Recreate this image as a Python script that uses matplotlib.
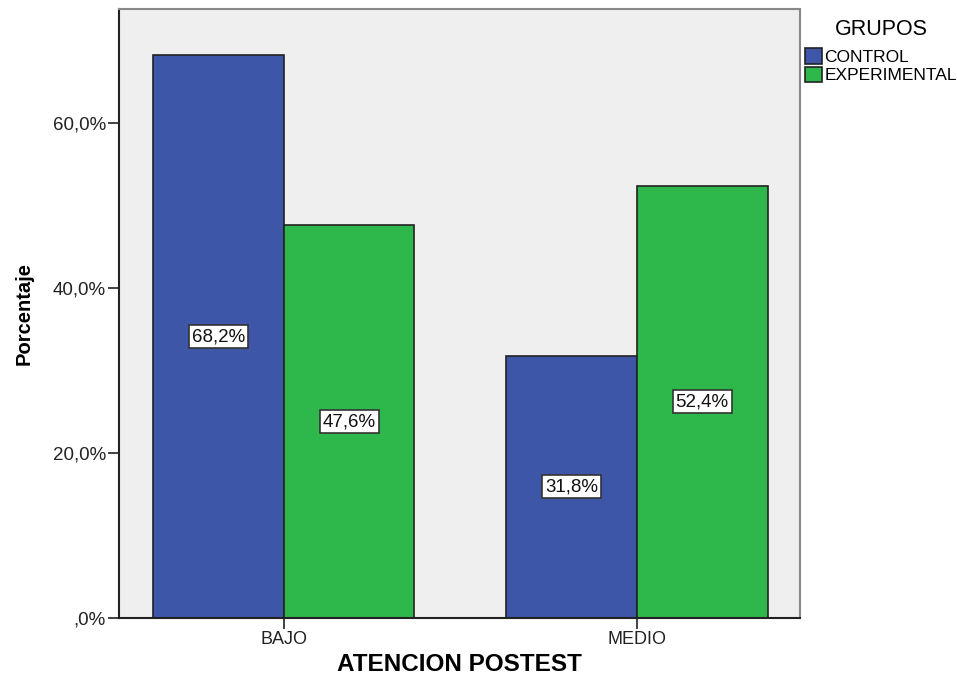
import matplotlib
matplotlib.use("Agg")
import matplotlib.pyplot as plt
import numpy as np
from matplotlib.patches import Patch

plt.rcParams['font.family'] = ['Liberation Sans', 'DejaVu Sans']

categories = ["BAJO", "MEDIO"]
groups = ["CONTROL", "EXPERIMENTAL"]
control = [68.2, 31.8]
experimental = [47.6, 52.4]
yticks = [0, 20, 40, 60]
ytick_labels = [",0%", "20,0%", "40,0%", "60,0%"]
colors = ["#3D56A8", "#2EB84B"]

fig = plt.figure(figsize=(9.57, 6.8), dpi=100)
ax = fig.add_axes([0.1243, 0.0912, 0.7117, 0.8956])
ax.set_facecolor("#EFEFEF")

x = np.arange(len(categories))
w = 0.37
series = [control, experimental]
for i, (vals, c) in enumerate(zip(series, colors)):
    pos = x + (i - 0.5) * w
    ax.bar(pos, vals, width=w, color=c, edgecolor="#222222", linewidth=1.2, zorder=2)
    for p, v in zip(pos, vals):
        ax.text(p, v / 2, f"{v:.1f}%".replace(".", ","), ha="center", va="center",
                fontsize=13.5, color="#111111", zorder=3,
                bbox=dict(boxstyle="square,pad=0.15", facecolor="white",
                          edgecolor="#333333", linewidth=1.2))

ax.set_xlim(-0.467, 1.462)
ax.set_ylim(0, 73.8)
ax.set_xticks(x)
ax.set_xticklabels(categories, fontsize=13, color="#222222")
ax.set_yticks(yticks)
ax.set_yticklabels(ytick_labels, fontsize=13.5, color="#222222")
ax.tick_params(axis="both", length=8, width=1.2, color="#222222", pad=1.5)
for s in ["left", "bottom"]:
    ax.spines[s].set_color("#222222")
    ax.spines[s].set_linewidth(1.5)
for s in ["top", "right"]:
    ax.spines[s].set_color("#888888")
    ax.spines[s].set_linewidth(1.5)

ax.set_ylabel("Porcentaje", fontsize=14.5, fontweight="bold")
ax.yaxis.set_label_coords(-0.126, 0.5)
ax.set_xlabel("ATENCION POSTEST", fontsize=17.5, fontweight="bold")
ax.xaxis.set_label_coords(0.5, -0.057)

handles = [Patch(facecolor=c, edgecolor="#222222", linewidth=1.2) for c in colors]
leg = fig.legend(handles, groups, title="GRUPOS", loc="upper left",
                 bbox_to_anchor=(0.832, 0.985), frameon=False, fontsize=12.5,
                 title_fontsize=15.5, handlelength=1.0, handleheight=1.0,
                 handletextpad=0.12, labelspacing=0.1, borderaxespad=0.2,
                 borderpad=0.3)
leg._legend_box.align = "center"
leg._legend_box.sep = 6

fig.savefig("out.png", dpi=100)
